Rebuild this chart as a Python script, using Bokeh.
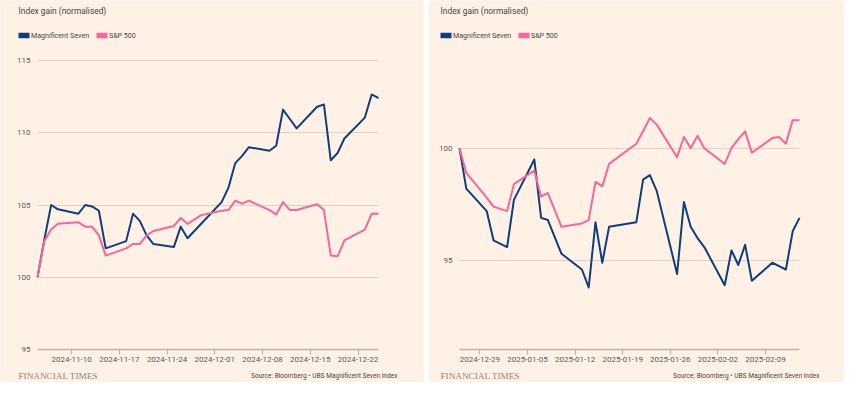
import pandas as pd
from bokeh.plotting import figure
from bokeh.layouts import row
from bokeh.models import (Range1d, FixedTicker, DatetimeTickFormatter, Label,
                          BoxAnnotation, ColumnDataSource)
from bokeh.embed import file_html
from bokeh.resources import INLINE

# ---------------- data ----------------
left_dates = ["2024-11-05", "2024-11-06", "2024-11-07", "2024-11-08", "2024-11-11",
              "2024-11-12", "2024-11-13", "2024-11-14", "2024-11-15", "2024-11-18",
              "2024-11-19", "2024-11-20", "2024-11-21", "2024-11-22", "2024-11-25",
              "2024-11-26", "2024-11-27", "2024-11-29", "2024-12-02", "2024-12-03",
              "2024-12-04", "2024-12-05", "2024-12-06", "2024-12-09", "2024-12-10",
              "2024-12-11", "2024-12-12", "2024-12-13", "2024-12-16", "2024-12-17",
              "2024-12-18", "2024-12-19", "2024-12-20", "2024-12-23", "2024-12-24",
              "2024-12-25"]
left_mag7 = [100.0, 102.6, 105.0, 104.7, 104.4, 105.0, 104.9, 104.6, 102.0, 102.5,
             104.4, 103.9, 102.9, 102.3, 102.1, 103.5, 102.7, 103.7, 105.2, 106.2,
             107.9, 108.4, 109.0, 108.75, 109.1, 111.6, 110.95, 110.3, 111.8, 111.95,
             108.1, 108.6, 109.6, 111.05, 112.65, 112.4]
left_spx = [100.0, 102.5, 103.3, 103.7, 103.8, 103.5, 103.5, 102.9, 101.5, 102.0,
            102.3, 102.3, 102.9, 103.2, 103.55, 104.1, 103.7, 104.3, 104.6, 104.65,
            105.3, 105.1, 105.3, 104.65, 104.35, 105.2, 104.65, 104.65, 105.05, 104.65,
            101.5, 101.45, 102.55, 103.3, 104.4, 104.4]
left_ticks = ["2024-11-10", "2024-11-17", "2024-11-24", "2024-12-01",
              "2024-12-08", "2024-12-15", "2024-12-22"]
left_yticks = [95, 100, 105, 110, 115]

right_dates = ["2024-12-26", "2024-12-27", "2024-12-30", "2024-12-31", "2025-01-02",
               "2025-01-03", "2025-01-06", "2025-01-07", "2025-01-08", "2025-01-10",
               "2025-01-13", "2025-01-14", "2025-01-15", "2025-01-16", "2025-01-17",
               "2025-01-21", "2025-01-22", "2025-01-23", "2025-01-24", "2025-01-27",
               "2025-01-28", "2025-01-29", "2025-01-30", "2025-01-31", "2025-02-03",
               "2025-02-04", "2025-02-05", "2025-02-06", "2025-02-07", "2025-02-10",
               "2025-02-11", "2025-02-12", "2025-02-13", "2025-02-14"]
right_mag7 = [100.0, 98.2, 97.2, 95.9, 95.6, 97.7, 99.5, 96.9, 96.8, 95.3,
              94.6, 93.8, 96.7, 94.9, 96.5, 96.7, 98.6, 98.8, 98.1, 94.4,
              97.6, 96.5, 96.0, 95.6, 93.9, 95.45, 94.8, 95.7, 94.1, 94.9,
              94.75, 94.6, 96.3, 96.9]
right_spx = [100.0, 98.9, 97.8, 97.4, 97.2, 98.4, 99.0, 97.85, 98.0, 96.5,
             96.65, 96.8, 98.5, 98.3, 99.3, 100.2, 100.75, 101.35, 101.05, 99.6,
             100.5, 100.0, 100.55, 100.0, 99.3, 100.0, 100.4, 100.75, 99.8, 100.45,
             100.5, 100.2, 101.25, 101.25]
right_ticks = ["2024-12-29", "2025-01-05", "2025-01-12", "2025-01-19",
               "2025-01-26", "2025-02-02", "2025-02-09"]
right_yticks = [95, 100]

title_text = "Index gain (normalised)"
series_names = ["Magnificent Seven", "S&P 500"]
brand_text = "FINANCIAL TIMES"
source_text = "Source: Bloomberg \u2022 UBS Magnificent Seven index"

# ---------------- style ----------------
BG = "#fff1e5"
BLUE = "#0f3e7c"
PINK = "#f5679a"
GRID = "#dbd1c6"
AXIS = "#bdb3a9"
TXT = "#4a4542"
TICKTXT = "#5e5955"
FONT = "Roboto"
FIG_H = 382
AXIS_Y = 349          # pixel row of the x axis (from the top of the figure)


def ms(s):
    return pd.Timestamp(s).value // 10**6


def make_panel(dates, mag7, spx, ticks, yticks, fig_w, plot_left, plot_w,
               ref_val, ref_px, px_per_unit):
    """plot_left/plot_w: horizontal pixel extent of the data area inside the figure.
    ref_val is drawn at pixel row ref_px, with px_per_unit pixels per index point."""
    d0, d1 = ms(dates[0]), ms(dates[-1])
    px_per_ms = plot_w / (d1 - d0)
    x_start = d0 - plot_left / px_per_ms
    x_end = d0 + (fig_w - plot_left) / px_per_ms
    y_top = ref_val + ref_px / px_per_unit
    y_bot = ref_val - (FIG_H - ref_px) / px_per_unit
    y_axis_val = ref_val - (AXIS_Y - ref_px) / px_per_unit

    src = ColumnDataSource(dict(date=pd.to_datetime(dates), mag7=mag7, spx=spx))
    p = figure(width=fig_w, height=FIG_H, x_axis_type="datetime",
               x_range=Range1d(start=x_start, end=x_end),
               y_range=Range1d(start=y_bot, end=y_top),
               output_backend="svg", toolbar_location=None,
               background_fill_color=BG, border_fill_color=BG,
               outline_line_color=None,
               min_border_left=0, min_border_right=0,
               min_border_top=0, min_border_bottom=0)

    g = p.ygrid[0]
    g.grid_line_color = GRID
    g.grid_line_width = 1.2
    g.bounds = (min(yticks), max(yticks))
    try:
        g.cross_bounds = (d0, d1)
    except Exception:
        pass
    p.xgrid.grid_line_color = None

    p.line("date", "mag7", source=src, line_color=BLUE, line_width=2, line_join="round")
    p.line("date", "spx", source=src, line_color=PINK, line_width=2, line_join="round")

    p.yaxis.fixed_location = d0
    p.yaxis.ticker = FixedTicker(ticks=yticks)
    p.yaxis.axis_line_color = None
    p.yaxis.major_tick_line_color = None
    p.yaxis.minor_tick_line_color = None
    p.yaxis.major_tick_out = 0
    p.yaxis.major_tick_in = 0
    p.yaxis.major_label_standoff = 7
    p.yaxis.major_label_text_font = FONT
    p.yaxis.major_label_text_font_size = "8px"
    p.yaxis.major_label_text_color = TICKTXT

    p.xaxis.fixed_location = y_axis_val
    p.xaxis.bounds = (d0, d1)
    p.xaxis.ticker = FixedTicker(ticks=[ms(t) for t in ticks])
    fmt = "%Y-%m-%d"
    p.xaxis.formatter = DatetimeTickFormatter(days=fmt, months=fmt, years=fmt,
                                              hours=fmt, minutes=fmt)
    p.xaxis.axis_line_color = AXIS
    p.xaxis.axis_line_width = 1.5
    p.xaxis.major_tick_line_color = AXIS
    p.xaxis.major_tick_line_width = 1.2
    p.xaxis.major_tick_out = 5
    p.xaxis.major_tick_in = 0
    p.xaxis.minor_tick_line_color = None
    p.xaxis.major_label_standoff = 2
    p.xaxis.major_label_text_font = FONT
    p.xaxis.major_label_text_font_size = "8px"
    p.xaxis.major_label_text_color = TICKTXT

    # texts: screen units, x from figure left, y measured up from the figure bottom
    tx = plot_left - 19

    def lab(x, y_page, text, **kw):
        p.add_layout(Label(x=x, y=FIG_H - y_page, x_units="screen", y_units="screen",
                           text=text, text_baseline="middle", **kw))

    def box(x0, x1, y_top_px, y_bot_px, color):
        p.add_layout(BoxAnnotation(left=x0, right=x1,
                                   top=FIG_H - y_top_px, bottom=FIG_H - y_bot_px,
                                   left_units="screen", right_units="screen",
                                   top_units="screen", bottom_units="screen",
                                   fill_color=color, fill_alpha=1, line_color=None))

    lab(tx, 10, title_text, text_font=FONT, text_font_size="8.4px", text_color=TXT)
    box(tx, tx + 11, 32.3, 37.7, BLUE)
    lab(tx + 12.5, 35, series_names[0], text_font=FONT, text_font_size="7.1px",
        text_color=TXT)
    box(tx + 78, tx + 89, 32.3, 37.7, PINK)
    lab(tx + 90.5, 35, series_names[1], text_font=FONT, text_font_size="7.1px",
        text_color=TXT)
    lab(tx, 375.5, brand_text, text_font="Liberation Serif", text_font_size="9.2px",
        text_color="#8c8682")
    lab(plot_left + 360, 375.5, source_text, text_align="right", text_font=FONT,
        text_font_size="6.6px", text_color=TXT)
    return p


p1 = make_panel(left_dates, left_mag7, left_spx, left_ticks, left_yticks,
                424, 37, 341, 115, 60, 14.45)
p2 = make_panel(right_dates, right_mag7, right_spx, right_ticks, right_yticks,
                416, 31, 340, 100, 147.7, 22.46)

layout = row(p1, p2, spacing=4)
open("out.html", "w").write(file_html(layout, INLINE))
